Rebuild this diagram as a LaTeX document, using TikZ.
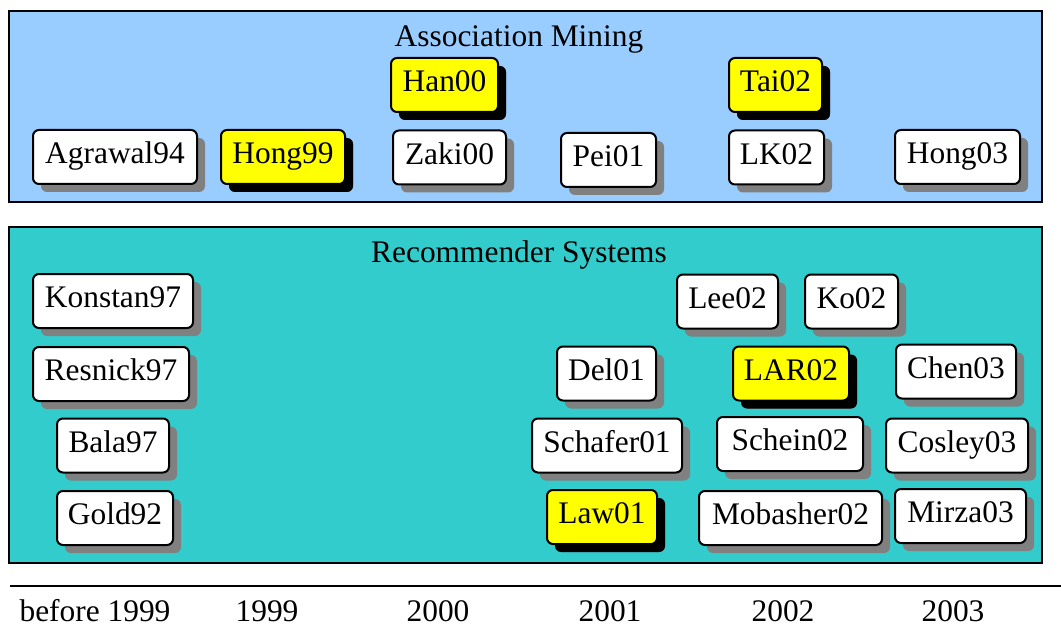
\documentclass[tikz,border=0pt]{standalone}
\usepackage{fontspec}
\setmainfont{Liberation Serif}
\usepackage{tikz}
\usetikzlibrary{shadows}
\definecolor{cielo}{RGB}{153, 204, 255}
\definecolor{turquesa}{RGB}{51, 204, 204}
\definecolor{sombra}{gray}{.50}
\definecolor{marca}{RGB}{255, 255, 0}

\begin{document}
\begin{tikzpicture}[
    x=0.5pt, y=-0.5pt,
    font=\fontsize{15.7}{18}\selectfont,
    panel/.style={draw=black, line width=1pt},
    paper/.style={rectangle, draw=black, line width=1pt, rounded corners=3pt,
      fill=white, minimum height=27pt, inner sep=0pt,
      text height=0.8em, text depth=0.14em,
      drop shadow={shadow xshift=4pt, shadow yshift=-4pt, fill=sombra, opacity=1}},
    hot/.style={paper, fill=marca,
      drop shadow={shadow xshift=4pt, shadow yshift=-4pt, fill=black, opacity=1}},
    title/.style={anchor=base, inner sep=0pt},
    year/.style={anchor=base, inner sep=0pt}
  ]
    \useasboundingbox (0,0) rectangle (1061,626);

    % panels
    \draw[panel, fill=cielo] (9,11) rectangle (1042,202);
    \draw[panel, fill=turquesa] (9,227) rectangle (1042,563);
    \node[title] (assoc) at (519,47) {Association Mining};
    \node[title] (recsys) at (519,263) {Recommender Systems};

    % association mining
    \node[hot, minimum width=53.5pt] (han00) at (444.5,85) {Han00};
    \node[hot, minimum width=46.5pt] (tai02) at (775.5,85) {Tai02};
    \node[paper, minimum width=82pt] (agrawal94) at (115,157) {Agrawal94};
    \node[hot, minimum width=62pt] (hong99) at (283,157) {Hong99};
    \node[paper, minimum width=56.5pt] (zaki00) at (449.5,157.5) {Zaki00};
    \node[paper, minimum width=47.5pt] (pei01) at (608.5,160) {Pei01};
    \node[paper, minimum width=47.5pt] (lk02) at (776.5,157.5) {LK02};
    \node[paper, minimum width=62.5pt] (hong03) at (957.5,157) {Hong03};

    % recommender systems
    \node[paper, minimum width=80pt] (konstan97) at (113,301) {Konstan97};
    \node[paper, minimum width=50.5pt] (lee02) at (727.5,301.5) {Lee02};
    \node[paper, minimum width=46.5pt] (ko02) at (851.5,301.5) {Ko02};
    \node[paper, minimum width=78pt] (resnick97) at (111,374) {Resnick97};
    \node[paper, minimum width=49.5pt] (del01) at (606.5,373.5) {Del01};
    \node[hot, minimum width=58pt] (lar02) at (791,373.5) {LAR02};
    \node[paper, minimum width=60pt] (chen03) at (956,371.5) {Chen03};
    \node[paper, minimum width=56pt] (bala97) at (113,445.5) {Bala97};
    \node[paper, minimum width=75pt] (schafer01) at (607,445.5) {Schafer01};
    \node[paper, minimum width=73pt] (schein02) at (790,444) {Schein02};
    \node[paper, minimum width=71pt] (cosley03) at (957,445.5) {Cosley03};
    \node[paper, minimum width=58pt] (gold92) at (115,518) {Gold92};
    \node[hot, minimum width=55pt] (law01) at (602,517) {Law01};
    \node[paper, minimum width=91.5pt] (mobasher02) at (790.5,518) {Mobasher02};
    \node[paper, minimum width=65.5pt] (mirza03) at (960.5,516) {Mirza03};

    % time axis
    \coordinate (axisL) at (10,586);
    \coordinate (axisR) at (1061,586);
    \draw[line width=1pt] (axisL) -- (axisR);
    \node[year] (ybefore) at (95,621) {before 1999};
    \node[year] (y1999) at (267,621) {1999};
    \node[year] (y2000) at (438,621) {2000};
    \node[year] (y2001) at (610,621) {2001};
    \node[year] (y2002) at (783,621) {2002};
    \node[year] (y2003) at (953,621) {2003};
  \end{tikzpicture}
\end{document}
